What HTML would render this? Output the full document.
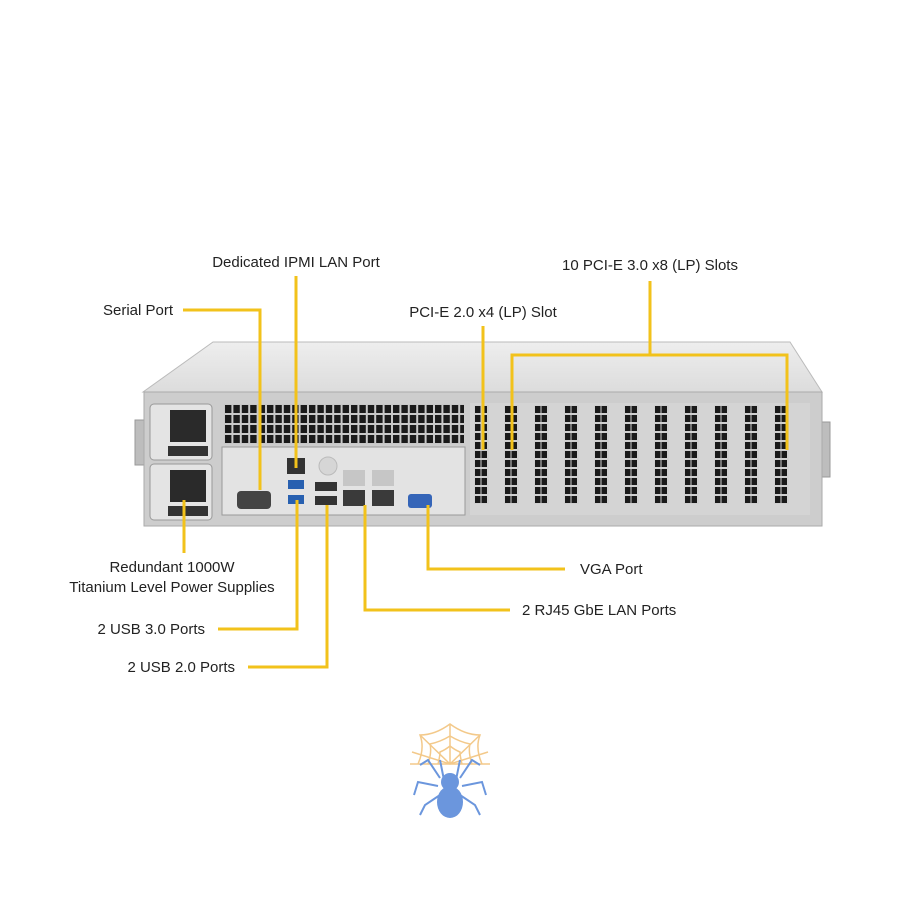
<!DOCTYPE html>
<html><head><meta charset="utf-8"><style>
html,body{margin:0;padding:0;background:#fff;}
svg{display:block;}
text{font-family:"Liberation Sans",sans-serif;font-size:15px;fill:#222;}
</style></head><body>
<svg width="900" height="900" viewBox="0 0 900 900" xmlns="http://www.w3.org/2000/svg">
<defs>
<pattern id="vent" x="224" y="404" width="8.4" height="10" patternUnits="userSpaceOnUse">
<rect width="8.4" height="10" fill="#c8c8c8"/><rect x="1" y="1" width="6.4" height="8" fill="#1a1a1a"/>
</pattern>
<pattern id="slotg" x="474" y="405" width="15" height="9" patternUnits="userSpaceOnUse">
<rect width="15" height="9" fill="#cfcfcf"/><rect x="1" y="1" width="5.5" height="7" fill="#1a1a1a"/><rect x="7.5" y="1" width="5.5" height="7" fill="#1a1a1a"/>
</pattern>
<linearGradient id="topg" x1="0" y1="0" x2="0" y2="1"><stop offset="0" stop-color="#eeeeee"/><stop offset="1" stop-color="#dcdcdc"/></linearGradient>
</defs>
<rect x="135" y="420" width="12" height="45" fill="#bdbdbd" stroke="#999"/>
<rect x="818" y="422" width="12" height="55" fill="#bdbdbd" stroke="#999"/>
<polygon points="213,342 790,342 822,392 143,392" fill="url(#topg)" stroke="#bbb"/>
<rect x="144" y="392" width="678" height="134" fill="#cdcdcd" stroke="#aaa"/>
<rect x="150" y="404" width="62" height="56" rx="4" fill="#e4e4e4" stroke="#999"/>
<rect x="150" y="464" width="62" height="56" rx="4" fill="#e4e4e4" stroke="#999"/>
<rect x="170" y="410" width="36" height="32" fill="#2a2a2a"/>
<rect x="170" y="470" width="36" height="32" fill="#2a2a2a"/>
<rect x="168" y="446" width="40" height="10" fill="#333"/>
<rect x="168" y="506" width="40" height="10" fill="#333"/>
<rect x="224" y="404" width="240" height="40" fill="url(#vent)"/>
<rect x="222" y="447" width="243" height="68" fill="#e3e3e3" stroke="#999"/>
<rect x="237" y="491" width="34" height="18" rx="4" fill="#444"/>
<rect x="287" y="458" width="18" height="16" fill="#333"/>
<rect x="288" y="480" width="16" height="9" fill="#2860b0"/>
<rect x="288" y="495" width="16" height="9" fill="#2860b0"/>
<circle cx="328" cy="466" r="9" fill="#d6d6d6" stroke="#bbb"/>
<rect x="315" y="482" width="22" height="9" fill="#333"/>
<rect x="315" y="496" width="22" height="9" fill="#333"/>
<rect x="343" y="470" width="22" height="16" fill="#c6c6c6"/>
<rect x="372" y="470" width="22" height="16" fill="#c6c6c6"/>
<rect x="343" y="490" width="22" height="16" fill="#3a3a3a"/>
<rect x="372" y="490" width="22" height="16" fill="#3a3a3a"/>
<rect x="408" y="494" width="24" height="14" rx="3" fill="#3565b8"/>
<rect x="470" y="403" width="340" height="112" fill="#d4d4d4"/>
<g fill="url(#slotg)">
<rect x="474" y="405" width="15" height="99"/>
<rect x="504" y="405" width="15" height="99"/>
<rect x="534" y="405" width="15" height="99"/>
<rect x="564" y="405" width="15" height="99"/>
<rect x="594" y="405" width="15" height="99"/>
<rect x="624" y="405" width="15" height="99"/>
<rect x="654" y="405" width="15" height="99"/>
<rect x="684" y="405" width="15" height="99"/>
<rect x="714" y="405" width="15" height="99"/>
<rect x="744" y="405" width="15" height="99"/>
<rect x="774" y="405" width="15" height="99"/>
</g>
<g stroke="#f2c21b" stroke-width="3" fill="none">
<polyline points="183,310 260,310 260,490"/>
<polyline points="296,276 296,468"/>
<polyline points="483,326 483,450"/>
<polyline points="650,281 650,355"/>
<polyline points="512,450 512,355 787,355 787,450"/>
<polyline points="184,500 184,553"/>
<polyline points="218,629 297,629 297,500"/>
<polyline points="248,667 327,667 327,505"/>
<polyline points="365,505 365,610 510,610"/>
<polyline points="428,505 428,569 565,569"/>
</g>
<text x="296" y="267" text-anchor="middle">Dedicated IPMI LAN Port</text>
<text x="650" y="270" text-anchor="middle">10 PCI-E 3.0 x8 (LP) Slots</text>
<text x="138" y="315" text-anchor="middle">Serial Port</text>
<text x="483" y="317" text-anchor="middle">PCI-E 2.0 x4 (LP) Slot</text>
<text x="172" y="572" text-anchor="middle">Redundant 1000W</text>
<text x="172" y="592" text-anchor="middle">Titanium Level Power Supplies</text>
<text x="580" y="574">VGA Port</text>
<text x="522" y="615">2 RJ45 GbE LAN Ports</text>
<text x="205" y="634" text-anchor="end">2 USB 3.0 Ports</text>
<text x="235" y="672" text-anchor="end">2 USB 2.0 Ports</text>
<g stroke="#f3c98a" stroke-width="1.5" fill="none">
<path d="M410,764 L490,764"/>
<path d="M450,724 L450,764 M450,764 L420,735 M450,764 L480,735 M450,764 L412,752 M450,764 L488,752"/>
<path d="M418,764 Q425,748 420,735 Q435,735 450,724 Q465,735 480,735 Q475,748 482,764"/>
<path d="M428,764 Q432,752 430,744 Q440,742 450,736 Q460,742 470,744 Q468,752 472,764"/>
<path d="M438,764 Q440,756 440,752 Q445,750 450,746 Q455,750 460,752 Q460,756 462,764"/>
</g>
<g stroke="#6b96dd" stroke-width="2" fill="none">
<path d="M440,778 L428,760 L420,765 M460,778 L472,760 L480,765 M438,786 L418,782 L414,795 M462,786 L482,782 L486,795 M440,795 L425,805 L420,815 M460,795 L475,805 L480,815 M444,780 L440,760 M456,780 L460,760"/>
</g>
<ellipse cx="450" cy="782" rx="9" ry="9" fill="#6b96dd"/>
<ellipse cx="450" cy="802" rx="13" ry="16" fill="#6b96dd"/>
</svg>
</body></html>
